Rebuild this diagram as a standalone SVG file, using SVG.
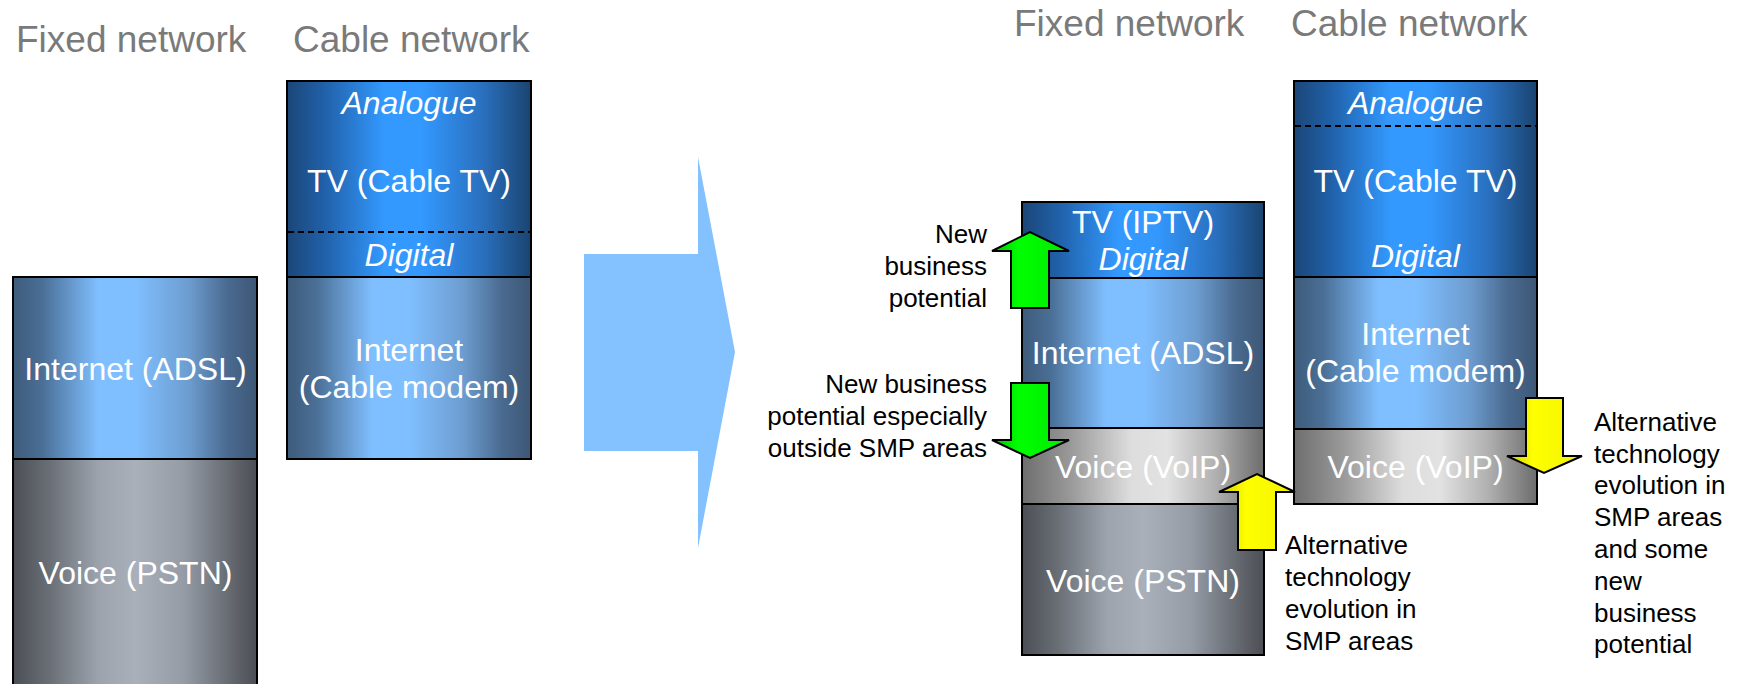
<svg xmlns="http://www.w3.org/2000/svg" width="1743" height="684" viewBox="0 0 1743 684">
<defs>
<linearGradient id="gTV" x1="0" y1="0" x2="1" y2="0">
<stop offset="0" stop-color="#1b4677"/><stop offset="0.15" stop-color="#2060a8"/><stop offset="0.4" stop-color="#3399ff"/><stop offset="0.55" stop-color="#3399ff"/><stop offset="0.8" stop-color="#2a70bf"/><stop offset="1" stop-color="#1a4470"/>
</linearGradient>
<linearGradient id="gNet" x1="0" y1="0" x2="1" y2="0">
<stop offset="0" stop-color="#3e5b7a"/><stop offset="0.12" stop-color="#4a6f96"/><stop offset="0.35" stop-color="#80bfff"/><stop offset="0.5" stop-color="#80bfff"/><stop offset="0.72" stop-color="#6d9dd0"/><stop offset="0.88" stop-color="#4a6a90"/><stop offset="1" stop-color="#3d5775"/>
</linearGradient>
<linearGradient id="gPSTN" x1="0" y1="0" x2="1" y2="0">
<stop offset="0" stop-color="#4b4f55"/><stop offset="0.15" stop-color="#6a6f76"/><stop offset="0.35" stop-color="#9ca3ad"/><stop offset="0.5" stop-color="#a9b0ba"/><stop offset="0.7" stop-color="#959ca6"/><stop offset="0.88" stop-color="#686c73"/><stop offset="1" stop-color="#4b4e53"/>
</linearGradient>
<linearGradient id="gVoIP" x1="0" y1="0" x2="1" y2="0">
<stop offset="0" stop-color="#6e6e6e"/><stop offset="0.2" stop-color="#999999"/><stop offset="0.45" stop-color="#dddddd"/><stop offset="0.6" stop-color="#e2e2e2"/><stop offset="0.8" stop-color="#b0b0b0"/><stop offset="1" stop-color="#6c6c6c"/>
</linearGradient>
<linearGradient id="gGreen" x1="0" y1="0" x2="1" y2="0">
<stop offset="0" stop-color="#00c000"/><stop offset="0.35" stop-color="#00ff00"/><stop offset="1" stop-color="#00e800"/>
</linearGradient>
<linearGradient id="gYellow" x1="0" y1="0" x2="1" y2="0">
<stop offset="0" stop-color="#cccc00"/><stop offset="0.35" stop-color="#ffff00"/><stop offset="1" stop-color="#f2f200"/>
</linearGradient>
<style>
.title{font-family:"Liberation Sans",Arial,sans-serif;font-size:37px;fill:#7a7a7a}
.in{font-family:"Liberation Sans",Arial,sans-serif;font-size:32px;fill:#ffffff;text-anchor:middle}
.it{font-style:italic}
.lbl{font-family:"Liberation Sans",Arial,sans-serif;font-size:26px;fill:#000000}
.r{text-anchor:end}
.box{stroke:#000;stroke-width:2}
.dash{stroke:#000;stroke-width:2;stroke-dasharray:6 4;fill:none}
.arr{stroke:#000;stroke-width:2;stroke-linejoin:miter}
</style>
</defs>
<rect width="1743" height="684" fill="#ffffff"/>

<g id="titles">
<text class="title" x="16" y="52">Fixed network</text>
<text class="title" x="293" y="52">Cable network</text>
<text class="title" x="1014" y="36">Fixed network</text>
<text class="title" x="1291" y="36">Cable network</text>
</g>

<g id="left-fixed">
<rect class="box" x="13" y="277" width="244" height="182" fill="url(#gNet)"/>
<rect class="box" x="13" y="459" width="244" height="240" fill="url(#gPSTN)"/>
<text class="in" x="135.5" y="380">Internet (ADSL)</text>
<text class="in" x="135.5" y="584">Voice (PSTN)</text>
</g>

<g id="left-cable">
<rect class="box" x="287" y="81" width="244" height="196" fill="url(#gTV)"/>
<line class="dash" x1="288" y1="232" x2="530" y2="232"/>
<rect class="box" x="287" y="277" width="244" height="182" fill="url(#gNet)"/>
<text class="in it" x="409" y="114">Analogue</text>
<text class="in" x="409" y="192">TV (Cable TV)</text>
<text class="in it" x="409" y="266">Digital</text>
<text class="in" x="409" y="361">Internet</text>
<text class="in" x="409" y="398">(Cable modem)</text>
</g>

<g id="transition-arrow">
<polygon points="584,254 698,254 698,157 735,352 698,548 698,451 584,451" fill="#84c1ff"/>
</g>

<g id="right-fixed">
<rect class="box" x="1022" y="202" width="242" height="76" fill="url(#gTV)"/>
<rect class="box" x="1022" y="278" width="242" height="150" fill="url(#gNet)"/>
<rect class="box" x="1022" y="428" width="242" height="76" fill="url(#gVoIP)"/>
<rect class="box" x="1022" y="504" width="242" height="151" fill="url(#gPSTN)"/>
<text class="in" x="1143" y="233">TV (IPTV)</text>
<text class="in it" x="1143" y="270">Digital</text>
<text class="in" x="1143" y="364">Internet (ADSL)</text>
<text class="in" x="1143" y="478">Voice (VoIP)</text>
<text class="in" x="1143" y="592">Voice (PSTN)</text>
</g>

<g id="right-cable">
<rect class="box" x="1294" y="81" width="243" height="196" fill="url(#gTV)"/>
<line class="dash" x1="1295" y1="126" x2="1536" y2="126"/>
<rect class="box" x="1294" y="277" width="243" height="152" fill="url(#gNet)"/>
<rect class="box" x="1294" y="429" width="243" height="75" fill="url(#gVoIP)"/>
<text class="in it" x="1415.5" y="114">Analogue</text>
<text class="in" x="1415.5" y="192">TV (Cable TV)</text>
<text class="in it" x="1415.5" y="267">Digital</text>
<text class="in" x="1415.5" y="345">Internet</text>
<text class="in" x="1415.5" y="382">(Cable modem)</text>
<text class="in" x="1415.5" y="478">Voice (VoIP)</text>
</g>

<g id="connectors">
<polygon class="arr" points="1011,308 1011,251 992,251 1030,232 1069,251 1049,251 1049,308" fill="url(#gGreen)"/>
<polygon class="arr" points="1011,383 1049,383 1049,440 1069,440 1030,458 992,440 1011,440" fill="url(#gGreen)"/>
<polygon class="arr" points="1238,550 1238,492 1219,492 1257,474 1295,492 1276,492 1276,550" fill="url(#gYellow)"/>
<polygon class="arr" points="1526,398 1563,398 1563,456 1582,456 1544,473 1507,456 1526,456" fill="url(#gYellow)"/>
</g>

<g id="label-new-business">
<text class="lbl r" x="987" y="243">New</text>
<text class="lbl r" x="987" y="275">business</text>
<text class="lbl r" x="987" y="307">potential</text>
</g>
<g id="label-outside-smp">
<text class="lbl r" x="987" y="393">New business</text>
<text class="lbl r" x="987" y="425">potential especially</text>
<text class="lbl r" x="987" y="457">outside SMP areas</text>
</g>
<g id="label-alt-fixed">
<text class="lbl" x="1285" y="554">Alternative</text>
<text class="lbl" x="1285" y="586">technology</text>
<text class="lbl" x="1285" y="618">evolution in</text>
<text class="lbl" x="1285" y="650">SMP areas</text>
</g>
<g id="label-alt-cable">
<text class="lbl" x="1594" y="431">Alternative</text>
<text class="lbl" x="1594" y="463">technology</text>
<text class="lbl" x="1594" y="494">evolution in</text>
<text class="lbl" x="1594" y="526">SMP areas</text>
<text class="lbl" x="1594" y="558">and some</text>
<text class="lbl" x="1594" y="590">new</text>
<text class="lbl" x="1594" y="622">business</text>
<text class="lbl" x="1594" y="653">potential</text>
</g>
</svg>
